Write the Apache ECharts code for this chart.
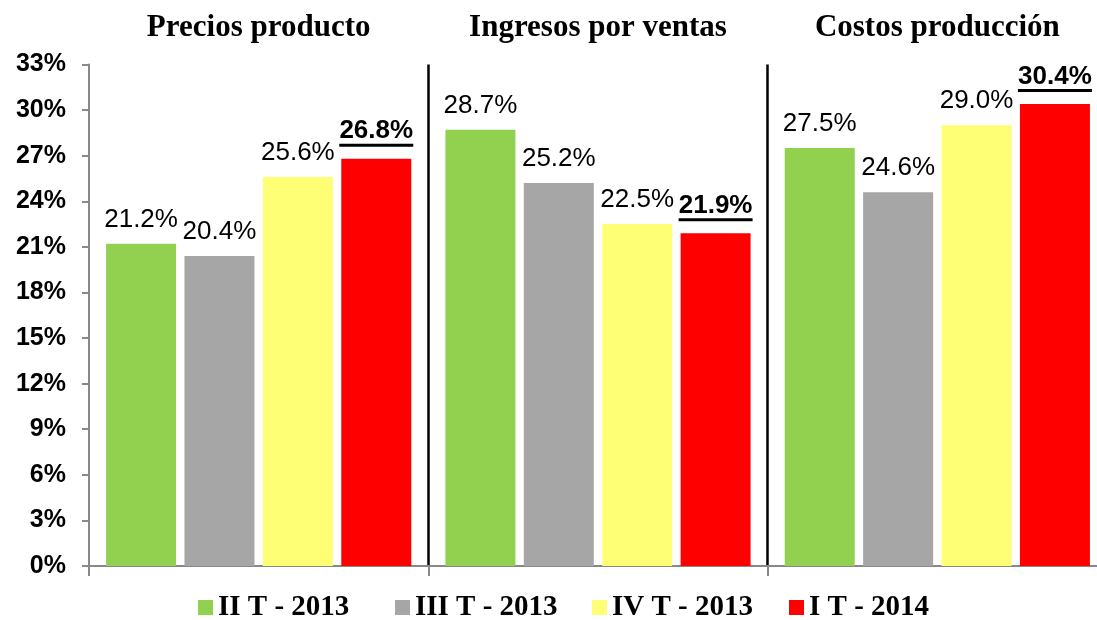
<!DOCTYPE html>
<html>
<head>
<meta charset="utf-8">
<script src="https://cdn.jsdelivr.net/npm/echarts@6/dist/echarts.min.js"></script>
<style>
html,body{margin:0;padding:0;background:#fff;}
#chart{width:1097px;height:620px;}
</style>
</head>
<body>
<div id="chart"></div>
<script>
const categories = ['Precios producto', 'Ingresos por ventas', 'Costos producción'];
const seriesNames = ['II T - 2013', 'III T - 2013', 'IV T - 2013', 'I T - 2014'];
const iiT2013 = [21.2, 28.7, 27.5];
const iiiT2013 = [20.4, 25.2, 24.6];
const ivT2013 = [25.6, 22.5, 29.0];
const iT2014 = [26.8, 21.9, 30.4];
const yMin = 0, yMax = 33, yStep = 3;

const colors = ['#92D050', '#A6A6A6', '#FFFF75', '#FF0000'];
const values = [iiT2013, iiiT2013, ivT2013, iT2014];
const sans = "'Liberation Sans', Arial, sans-serif";
const serif = "'Liberation Serif', 'Times New Roman', serif";

const chart = echarts.init(document.getElementById('chart'), null, {renderer: 'canvas'});

const series = seriesNames.map((name, i) => {
  const isLast = i === seriesNames.length - 1;
  return {
    name: name,
    type: 'bar',
    data: values[i],
    barWidth: 70,
    barGap: '12%',
    itemStyle: {color: colors[i]},
    label: isLast ? {
      show: true,
      position: 'top',
      distance: 12,
      formatter: p => '{v|' + p.value.toFixed(1) + '%}\n{u|}',
      rich: {
        v: {fontFamily: sans, fontSize: 26, fontWeight: 'bold', color: '#000', lineHeight: 25, align: 'center'},
        u: {width: 74, height: 3, lineHeight: 3, backgroundColor: '#000', align: 'center'}
      }
    } : {
      show: true,
      position: 'top',
      distance: 11,
      formatter: p => p.value.toFixed(1) + '%',
      fontFamily: sans,
      fontSize: 26,
      color: '#000'
    }
  };
});

const legends = seriesNames.map((name, i) => ({
  data: [name],
  left: 198 + 197 * i,
  top: 593,
  padding: 0,
  icon: 'rect',
  itemWidth: 15,
  itemHeight: 15,
  selectedMode: false,
  textStyle: {fontFamily: serif, fontSize: 29, fontWeight: 'bold', color: '#000'}
}));

chart.setOption({
  animation: false,
  color: colors,
  grid: {left: 89, width: 1018, top: 64.5, height: 501.5, containLabel: false, outerBoundsMode: 'none'},
  legend: legends,
  xAxis: [{
    type: 'category',
    data: categories,
    position: 'bottom',
    axisLine: {show: true, lineStyle: {color: '#888', width: 2}},
    axisTick: {show: true, length: 10, lineStyle: {color: '#888', width: 2}},
    axisLabel: {show: false},
    splitLine: {show: true, showMinLine: false, showMaxLine: false, lineStyle: {color: '#000', width: 2.5}}
  }, {
    type: 'category',
    data: categories,
    position: 'top',
    axisLine: {show: false},
    axisTick: {show: false},
    axisLabel: {show: true, fontFamily: serif, fontSize: 31, fontWeight: 'bold', color: '#000', margin: 21, lineHeight: 31},
    splitLine: {show: false}
  }],
  yAxis: {
    type: 'value',
    min: yMin,
    max: yMax,
    interval: yStep,
    axisLine: {show: true, lineStyle: {color: '#888', width: 2}},
    axisTick: {show: true, length: 7, lineStyle: {color: '#888', width: 2}},
    axisLabel: {formatter: '{value}%', fontFamily: sans, fontSize: 25, fontWeight: 'bold', color: '#000', margin: 23},
    splitLine: {show: false}
  },
  series: series
});
</script>
</body>
</html>
